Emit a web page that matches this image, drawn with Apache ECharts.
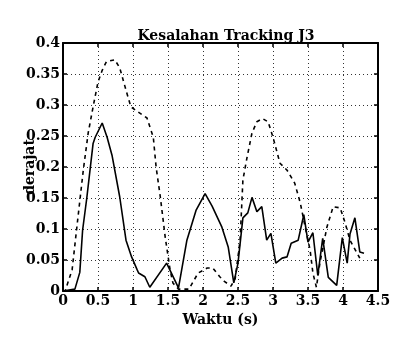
<!DOCTYPE html>
<html>
<head>
<meta charset="utf-8">
<script src="https://cdn.jsdelivr.net/npm/echarts@6/dist/echarts.min.js"></script>
<style>
  html, body { margin: 0; padding: 0; background: #fff; }
  #chart { width: 407px; height: 342px; }
</style>
</head>
<body>
<div id="chart"></div>
<script>
// data (time in s, error in degrees)
const solidT = [0, 0.17, 0.24, 0.28, 0.34, 0.43, 0.46, 0.56, 0.63, 0.70, 0.81, 0.90, 0.98, 1.06, 1.08, 1.17, 1.24, 1.48, 1.65, 1.77, 1.90, 2.03, 2.13, 2.27, 2.36, 2.44, 2.50, 2.57, 2.64, 2.70, 2.77, 2.84, 2.91, 2.97, 3.04, 3.13, 3.20, 3.26, 3.36, 3.44, 3.50, 3.57, 3.64, 3.71, 3.79, 3.91, 3.99, 4.06, 4.10, 4.17, 4.24, 4.30];
const solidV = [0, 0.003, 0.03, 0.098, 0.15, 0.238, 0.248, 0.271, 0.248, 0.219, 0.152, 0.082, 0.055, 0.034, 0.029, 0.023, 0.006, 0.045, 0.005, 0.082, 0.13, 0.157, 0.137, 0.103, 0.071, 0.013, 0.045, 0.118, 0.126, 0.151, 0.128, 0.136, 0.082, 0.093, 0.045, 0.053, 0.055, 0.077, 0.082, 0.123, 0.079, 0.094, 0.025, 0.085, 0.022, 0.009, 0.086, 0.045, 0.092, 0.118, 0.063, 0.061];

const dashT = [0, 0.03, 0.13, 0.21, 0.29, 0.36, 0.43, 0.50, 0.56, 0.62, 0.74, 0.81, 0.91, 0.97, 1.07, 1.20, 1.29, 1.33, 1.39, 1.46, 1.53, 1.57, 1.65, 1.80, 1.93, 2.06, 2.14, 2.24, 2.31, 2.40, 2.46, 2.53, 2.57, 2.63, 2.70, 2.77, 2.85, 2.93, 3.00, 3.10, 3.20, 3.31, 3.39, 3.46, 3.53, 3.57, 3.62, 3.67, 3.77, 3.86, 3.96, 4.03, 4.10, 4.24];
const dashV = [0, 0, 0.034, 0.115, 0.195, 0.255, 0.297, 0.337, 0.356, 0.37, 0.373, 0.36, 0.32, 0.297, 0.289, 0.279, 0.248, 0.2, 0.152, 0.087, 0.034, 0.013, 0.003, 0.003, 0.029, 0.037, 0.037, 0.023, 0.015, 0.008, 0.02, 0.082, 0.179, 0.216, 0.255, 0.273, 0.278, 0.273, 0.248, 0.206, 0.195, 0.174, 0.142, 0.103, 0.066, 0.029, 0.006, 0.045, 0.103, 0.136, 0.134, 0.11, 0.082, 0.053];

const xTicks = [0, 0.5, 1, 1.5, 2, 2.5, 3, 3.5, 4, 4.5];
const yTicks = ['0', '0.05', '0.1', '0.15', '0.2', '0.25', '0.3', '0.35', '0.4'];

const font = 'DejaVu Serif';
const zip = (a, b) => a.map((t, i) => [t, b[i]]);

const chart = echarts.init(document.getElementById('chart'));

// shared look for the dotted grid and inward ticks
const gridLine = { show: true, lineStyle: { color: '#333', type: [1, 3], width: 1 } };
const inTick = { show: true, inside: true, length: 4, lineStyle: { color: '#000', width: 1.5 } };
const border = { show: true, onZero: false, lineStyle: { color: '#000', width: 2 } };

chart.setOption({
    animation: false,
    backgroundColor: '#fff',
    title: {
        text: 'Kesalahan Tracking J3',
        left: 221, top: 24, textAlign: 'center',
        textStyle: { fontFamily: font, fontWeight: 'bold', fontSize: 14, color: '#000' }
    },
    grid: { left: 63, right: 29, top: 43, bottom: 51 },
    xAxis: [{
        type: 'value', min: 0, max: 4.5, interval: 0.5,
        name: 'Waktu (s)', nameLocation: 'middle', nameGap: 22, nameMoveOverlap: false,
        nameTextStyle: { fontFamily: font, fontWeight: 'bold', fontSize: 14, color: '#000' },
        axisLine: border, axisTick: inTick, splitLine: gridLine,
        axisLabel: {
            margin: 3, fontFamily: font, fontWeight: 'bold', fontSize: 14, color: '#000',
            formatter: v => String(xTicks[Math.round(v / 0.5)])
        }
    }, {
        type: 'value', min: 0, max: 4.5, interval: 0.5, position: 'top',
        axisLine: border, axisTick: inTick, axisLabel: { show: false }, splitLine: { show: false }
    }],
    yAxis: [{
        type: 'value', min: 0, max: 0.4, interval: 0.05,
        name: 'derajat', nameLocation: 'middle', nameGap: 26, nameRotate: 90, nameMoveOverlap: false,
        nameTextStyle: { fontFamily: font, fontWeight: 'bold', fontSize: 14, color: '#000' },
        axisLine: border, axisTick: inTick, splitLine: gridLine,
        axisLabel: {
            margin: 3, fontFamily: font, fontWeight: 'bold', fontSize: 14, color: '#000',
            formatter: v => yTicks[Math.round(v / 0.05)]
        }
    }, {
        type: 'value', min: 0, max: 0.4, interval: 0.05, position: 'right',
        axisLine: border, axisTick: inTick, axisLabel: { show: false }, splitLine: { show: false }
    }],
    series: [{
        type: 'line', name: 'solid', data: zip(solidT, solidV),
        showSymbol: false, symbol: 'none',
        lineStyle: { color: '#000', width: 1.6 }
    }, {
        type: 'line', name: 'dashed', data: zip(dashT, dashV),
        showSymbol: false, symbol: 'none',
        lineStyle: { color: '#000', width: 1.6, type: [4, 4] }
    }]
});
</script>
</body>
</html>
